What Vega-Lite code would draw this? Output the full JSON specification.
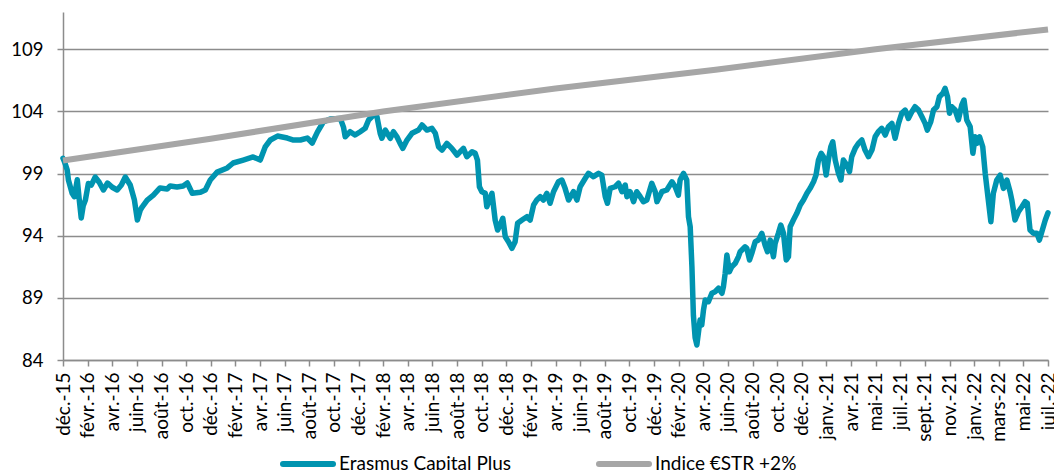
{
  "$schema": "https://vega.github.io/schema/vega-lite/v6.json",
  "width": 985,
  "height": 348,
  "autosize": {"type": "none"},
  "padding": {"left": 63, "top": 12, "right": 6, "bottom": 110},
  "config": {"view": {"stroke": null}, "font": "Lato"},
  "data": {"values": [
    {"serie": "Indice €STR +2%", "t": 0, "v": 100.05},
    {"serie": "Indice €STR +2%", "t": 6, "v": 101.8},
    {"serie": "Indice €STR +2%", "t": 13, "v": 104.0},
    {"serie": "Indice €STR +2%", "t": 20, "v": 105.85},
    {"serie": "Indice €STR +2%", "t": 26.5, "v": 107.35},
    {"serie": "Indice €STR +2%", "t": 33, "v": 109.0},
    {"serie": "Indice €STR +2%", "t": 40, "v": 110.6},
    {"serie": "Erasmus Capital Plus", "t": 0, "v": 100.23},
    {"serie": "Erasmus Capital Plus", "t": 0.07, "v": 99.9},
    {"serie": "Erasmus Capital Plus", "t": 0.17, "v": 99.3},
    {"serie": "Erasmus Capital Plus", "t": 0.22, "v": 98.48},
    {"serie": "Erasmus Capital Plus", "t": 0.37, "v": 97.41},
    {"serie": "Erasmus Capital Plus", "t": 0.46, "v": 97.14},
    {"serie": "Erasmus Capital Plus", "t": 0.58, "v": 98.5},
    {"serie": "Erasmus Capital Plus", "t": 0.66, "v": 96.9},
    {"serie": "Erasmus Capital Plus", "t": 0.74, "v": 95.42},
    {"serie": "Erasmus Capital Plus", "t": 0.82, "v": 96.4},
    {"serie": "Erasmus Capital Plus", "t": 0.91, "v": 96.87},
    {"serie": "Erasmus Capital Plus", "t": 1.03, "v": 98.2},
    {"serie": "Erasmus Capital Plus", "t": 1.15, "v": 98.08},
    {"serie": "Erasmus Capital Plus", "t": 1.31, "v": 98.72},
    {"serie": "Erasmus Capital Plus", "t": 1.47, "v": 98.3},
    {"serie": "Erasmus Capital Plus", "t": 1.64, "v": 97.68},
    {"serie": "Erasmus Capital Plus", "t": 1.81, "v": 98.24},
    {"serie": "Erasmus Capital Plus", "t": 2.0, "v": 97.9},
    {"serie": "Erasmus Capital Plus", "t": 2.2, "v": 97.68},
    {"serie": "Erasmus Capital Plus", "t": 2.37, "v": 98.08},
    {"serie": "Erasmus Capital Plus", "t": 2.53, "v": 98.72},
    {"serie": "Erasmus Capital Plus", "t": 2.73, "v": 98.08},
    {"serie": "Erasmus Capital Plus", "t": 2.9, "v": 96.87},
    {"serie": "Erasmus Capital Plus", "t": 3.02, "v": 95.26},
    {"serie": "Erasmus Capital Plus", "t": 3.14, "v": 96.07},
    {"serie": "Erasmus Capital Plus", "t": 3.22, "v": 96.33},
    {"serie": "Erasmus Capital Plus", "t": 3.42, "v": 96.87},
    {"serie": "Erasmus Capital Plus", "t": 3.67, "v": 97.27},
    {"serie": "Erasmus Capital Plus", "t": 3.94, "v": 97.84},
    {"serie": "Erasmus Capital Plus", "t": 4.23, "v": 97.76},
    {"serie": "Erasmus Capital Plus", "t": 4.35, "v": 98.0},
    {"serie": "Erasmus Capital Plus", "t": 4.63, "v": 97.92},
    {"serie": "Erasmus Capital Plus", "t": 4.88, "v": 98.0},
    {"serie": "Erasmus Capital Plus", "t": 5.05, "v": 98.24},
    {"serie": "Erasmus Capital Plus", "t": 5.25, "v": 97.41},
    {"serie": "Erasmus Capital Plus", "t": 5.58, "v": 97.5},
    {"serie": "Erasmus Capital Plus", "t": 5.78, "v": 97.68},
    {"serie": "Erasmus Capital Plus", "t": 5.98, "v": 98.48},
    {"serie": "Erasmus Capital Plus", "t": 6.26, "v": 99.12},
    {"serie": "Erasmus Capital Plus", "t": 6.67, "v": 99.45},
    {"serie": "Erasmus Capital Plus", "t": 6.91, "v": 99.85},
    {"serie": "Erasmus Capital Plus", "t": 7.32, "v": 100.09},
    {"serie": "Erasmus Capital Plus", "t": 7.72, "v": 100.34},
    {"serie": "Erasmus Capital Plus", "t": 8.01, "v": 100.09},
    {"serie": "Erasmus Capital Plus", "t": 8.21, "v": 101.14},
    {"serie": "Erasmus Capital Plus", "t": 8.42, "v": 101.7},
    {"serie": "Erasmus Capital Plus", "t": 8.71, "v": 102.02},
    {"serie": "Erasmus Capital Plus", "t": 9.11, "v": 101.86},
    {"serie": "Erasmus Capital Plus", "t": 9.36, "v": 101.7},
    {"serie": "Erasmus Capital Plus", "t": 9.64, "v": 101.7},
    {"serie": "Erasmus Capital Plus", "t": 9.92, "v": 101.86},
    {"serie": "Erasmus Capital Plus", "t": 10.12, "v": 101.46},
    {"serie": "Erasmus Capital Plus", "t": 10.33, "v": 102.34},
    {"serie": "Erasmus Capital Plus", "t": 10.57, "v": 103.15},
    {"serie": "Erasmus Capital Plus", "t": 10.85, "v": 103.39},
    {"serie": "Erasmus Capital Plus", "t": 11.26, "v": 103.44},
    {"serie": "Erasmus Capital Plus", "t": 11.39, "v": 102.74},
    {"serie": "Erasmus Capital Plus", "t": 11.46, "v": 101.96},
    {"serie": "Erasmus Capital Plus", "t": 11.66, "v": 102.37},
    {"serie": "Erasmus Capital Plus", "t": 11.86, "v": 102.1},
    {"serie": "Erasmus Capital Plus", "t": 12.07, "v": 102.37},
    {"serie": "Erasmus Capital Plus", "t": 12.27, "v": 102.64},
    {"serie": "Erasmus Capital Plus", "t": 12.41, "v": 103.31},
    {"serie": "Erasmus Capital Plus", "t": 12.61, "v": 103.71},
    {"serie": "Erasmus Capital Plus", "t": 12.75, "v": 103.57},
    {"serie": "Erasmus Capital Plus", "t": 12.88, "v": 102.24},
    {"serie": "Erasmus Capital Plus", "t": 12.95, "v": 101.84},
    {"serie": "Erasmus Capital Plus", "t": 13.09, "v": 102.5},
    {"serie": "Erasmus Capital Plus", "t": 13.29, "v": 101.84},
    {"serie": "Erasmus Capital Plus", "t": 13.42, "v": 102.37},
    {"serie": "Erasmus Capital Plus", "t": 13.56, "v": 101.96},
    {"serie": "Erasmus Capital Plus", "t": 13.69, "v": 101.43},
    {"serie": "Erasmus Capital Plus", "t": 13.8, "v": 101.03},
    {"serie": "Erasmus Capital Plus", "t": 13.97, "v": 101.7},
    {"serie": "Erasmus Capital Plus", "t": 14.17, "v": 102.24},
    {"serie": "Erasmus Capital Plus", "t": 14.44, "v": 102.5},
    {"serie": "Erasmus Capital Plus", "t": 14.58, "v": 102.91},
    {"serie": "Erasmus Capital Plus", "t": 14.78, "v": 102.5},
    {"serie": "Erasmus Capital Plus", "t": 14.98, "v": 102.64},
    {"serie": "Erasmus Capital Plus", "t": 15.12, "v": 102.24},
    {"serie": "Erasmus Capital Plus", "t": 15.25, "v": 101.16},
    {"serie": "Erasmus Capital Plus", "t": 15.39, "v": 100.89},
    {"serie": "Erasmus Capital Plus", "t": 15.59, "v": 101.43},
    {"serie": "Erasmus Capital Plus", "t": 15.79, "v": 101.03},
    {"serie": "Erasmus Capital Plus", "t": 16.0, "v": 100.49},
    {"serie": "Erasmus Capital Plus", "t": 16.13, "v": 100.76},
    {"serie": "Erasmus Capital Plus", "t": 16.26, "v": 101.03},
    {"serie": "Erasmus Capital Plus", "t": 16.4, "v": 100.36},
    {"serie": "Erasmus Capital Plus", "t": 16.61, "v": 100.76},
    {"serie": "Erasmus Capital Plus", "t": 16.74, "v": 100.63},
    {"serie": "Erasmus Capital Plus", "t": 16.83, "v": 100.09},
    {"serie": "Erasmus Capital Plus", "t": 16.91, "v": 97.94},
    {"serie": "Erasmus Capital Plus", "t": 17.01, "v": 97.54},
    {"serie": "Erasmus Capital Plus", "t": 17.15, "v": 97.41},
    {"serie": "Erasmus Capital Plus", "t": 17.21, "v": 96.33},
    {"serie": "Erasmus Capital Plus", "t": 17.31, "v": 96.87},
    {"serie": "Erasmus Capital Plus", "t": 17.42, "v": 97.41},
    {"serie": "Erasmus Capital Plus", "t": 17.55, "v": 95.26},
    {"serie": "Erasmus Capital Plus", "t": 17.65, "v": 94.46},
    {"serie": "Erasmus Capital Plus", "t": 17.75, "v": 94.86},
    {"serie": "Erasmus Capital Plus", "t": 17.86, "v": 95.4},
    {"serie": "Erasmus Capital Plus", "t": 17.96, "v": 93.92},
    {"serie": "Erasmus Capital Plus", "t": 18.09, "v": 93.52},
    {"serie": "Erasmus Capital Plus", "t": 18.23, "v": 92.99},
    {"serie": "Erasmus Capital Plus", "t": 18.36, "v": 93.52},
    {"serie": "Erasmus Capital Plus", "t": 18.46, "v": 95.0},
    {"serie": "Erasmus Capital Plus", "t": 18.64, "v": 95.26},
    {"serie": "Erasmus Capital Plus", "t": 18.84, "v": 95.53},
    {"serie": "Erasmus Capital Plus", "t": 18.97, "v": 95.26},
    {"serie": "Erasmus Capital Plus", "t": 19.11, "v": 96.47},
    {"serie": "Erasmus Capital Plus", "t": 19.24, "v": 96.87},
    {"serie": "Erasmus Capital Plus", "t": 19.38, "v": 97.14},
    {"serie": "Erasmus Capital Plus", "t": 19.51, "v": 96.87},
    {"serie": "Erasmus Capital Plus", "t": 19.65, "v": 97.41},
    {"serie": "Erasmus Capital Plus", "t": 19.78, "v": 96.61},
    {"serie": "Erasmus Capital Plus", "t": 19.92, "v": 97.54},
    {"serie": "Erasmus Capital Plus", "t": 20.12, "v": 98.34},
    {"serie": "Erasmus Capital Plus", "t": 20.26, "v": 98.48},
    {"serie": "Erasmus Capital Plus", "t": 20.39, "v": 97.81},
    {"serie": "Erasmus Capital Plus", "t": 20.53, "v": 96.87},
    {"serie": "Erasmus Capital Plus", "t": 20.73, "v": 97.54},
    {"serie": "Erasmus Capital Plus", "t": 20.87, "v": 96.87},
    {"serie": "Erasmus Capital Plus", "t": 21.0, "v": 97.94},
    {"serie": "Erasmus Capital Plus", "t": 21.21, "v": 98.62},
    {"serie": "Erasmus Capital Plus", "t": 21.34, "v": 99.02},
    {"serie": "Erasmus Capital Plus", "t": 21.54, "v": 98.75},
    {"serie": "Erasmus Capital Plus", "t": 21.75, "v": 99.02},
    {"serie": "Erasmus Capital Plus", "t": 21.88, "v": 98.88},
    {"serie": "Erasmus Capital Plus", "t": 22.02, "v": 97.14},
    {"serie": "Erasmus Capital Plus", "t": 22.11, "v": 96.61},
    {"serie": "Erasmus Capital Plus", "t": 22.22, "v": 97.81},
    {"serie": "Erasmus Capital Plus", "t": 22.42, "v": 97.94},
    {"serie": "Erasmus Capital Plus", "t": 22.56, "v": 98.22},
    {"serie": "Erasmus Capital Plus", "t": 22.7, "v": 97.54},
    {"serie": "Erasmus Capital Plus", "t": 22.83, "v": 98.08},
    {"serie": "Erasmus Capital Plus", "t": 22.9, "v": 97.14},
    {"serie": "Erasmus Capital Plus", "t": 23.03, "v": 97.54},
    {"serie": "Erasmus Capital Plus", "t": 23.17, "v": 96.74},
    {"serie": "Erasmus Capital Plus", "t": 23.3, "v": 97.54},
    {"serie": "Erasmus Capital Plus", "t": 23.44, "v": 97.14},
    {"serie": "Erasmus Capital Plus", "t": 23.57, "v": 96.74},
    {"serie": "Erasmus Capital Plus", "t": 23.71, "v": 96.87},
    {"serie": "Erasmus Capital Plus", "t": 23.91, "v": 98.22},
    {"serie": "Erasmus Capital Plus", "t": 24.05, "v": 97.54},
    {"serie": "Erasmus Capital Plus", "t": 24.12, "v": 96.74},
    {"serie": "Erasmus Capital Plus", "t": 24.32, "v": 97.54},
    {"serie": "Erasmus Capital Plus", "t": 24.52, "v": 97.68},
    {"serie": "Erasmus Capital Plus", "t": 24.73, "v": 98.34},
    {"serie": "Erasmus Capital Plus", "t": 24.86, "v": 97.94},
    {"serie": "Erasmus Capital Plus", "t": 24.99, "v": 97.27},
    {"serie": "Erasmus Capital Plus", "t": 25.06, "v": 98.48},
    {"serie": "Erasmus Capital Plus", "t": 25.2, "v": 99.02},
    {"serie": "Erasmus Capital Plus", "t": 25.33, "v": 98.48},
    {"serie": "Erasmus Capital Plus", "t": 25.4, "v": 95.53},
    {"serie": "Erasmus Capital Plus", "t": 25.47, "v": 94.72},
    {"serie": "Erasmus Capital Plus", "t": 25.54, "v": 91.51},
    {"serie": "Erasmus Capital Plus", "t": 25.6, "v": 87.6},
    {"serie": "Erasmus Capital Plus", "t": 25.67, "v": 85.8},
    {"serie": "Erasmus Capital Plus", "t": 25.74, "v": 85.21},
    {"serie": "Erasmus Capital Plus", "t": 25.87, "v": 87.22},
    {"serie": "Erasmus Capital Plus", "t": 25.94, "v": 86.82},
    {"serie": "Erasmus Capital Plus", "t": 26.01, "v": 88.02},
    {"serie": "Erasmus Capital Plus", "t": 26.08, "v": 88.83},
    {"serie": "Erasmus Capital Plus", "t": 26.21, "v": 88.69},
    {"serie": "Erasmus Capital Plus", "t": 26.35, "v": 89.37},
    {"serie": "Erasmus Capital Plus", "t": 26.48, "v": 89.49},
    {"serie": "Erasmus Capital Plus", "t": 26.62, "v": 89.77},
    {"serie": "Erasmus Capital Plus", "t": 26.76, "v": 89.37},
    {"serie": "Erasmus Capital Plus", "t": 26.82, "v": 89.9},
    {"serie": "Erasmus Capital Plus", "t": 26.89, "v": 90.98},
    {"serie": "Erasmus Capital Plus", "t": 26.96, "v": 92.45},
    {"serie": "Erasmus Capital Plus", "t": 27.06, "v": 91.1},
    {"serie": "Erasmus Capital Plus", "t": 27.16, "v": 91.51},
    {"serie": "Erasmus Capital Plus", "t": 27.3, "v": 91.78},
    {"serie": "Erasmus Capital Plus", "t": 27.43, "v": 92.31},
    {"serie": "Erasmus Capital Plus", "t": 27.5, "v": 92.71},
    {"serie": "Erasmus Capital Plus", "t": 27.7, "v": 93.11},
    {"serie": "Erasmus Capital Plus", "t": 27.77, "v": 92.99},
    {"serie": "Erasmus Capital Plus", "t": 27.88, "v": 92.05},
    {"serie": "Erasmus Capital Plus", "t": 27.97, "v": 92.58},
    {"serie": "Erasmus Capital Plus", "t": 28.11, "v": 93.52},
    {"serie": "Erasmus Capital Plus", "t": 28.24, "v": 93.65},
    {"serie": "Erasmus Capital Plus", "t": 28.38, "v": 94.19},
    {"serie": "Erasmus Capital Plus", "t": 28.51, "v": 93.25},
    {"serie": "Erasmus Capital Plus", "t": 28.61, "v": 92.71},
    {"serie": "Erasmus Capital Plus", "t": 28.72, "v": 93.65},
    {"serie": "Erasmus Capital Plus", "t": 28.85, "v": 92.31},
    {"serie": "Erasmus Capital Plus", "t": 28.92, "v": 93.39},
    {"serie": "Erasmus Capital Plus", "t": 29.05, "v": 94.19},
    {"serie": "Erasmus Capital Plus", "t": 29.15, "v": 94.86},
    {"serie": "Erasmus Capital Plus", "t": 29.26, "v": 94.19},
    {"serie": "Erasmus Capital Plus", "t": 29.37, "v": 92.05},
    {"serie": "Erasmus Capital Plus", "t": 29.46, "v": 92.31},
    {"serie": "Erasmus Capital Plus", "t": 29.53, "v": 94.72},
    {"serie": "Erasmus Capital Plus", "t": 29.66, "v": 95.26},
    {"serie": "Erasmus Capital Plus", "t": 29.8, "v": 95.8},
    {"serie": "Erasmus Capital Plus", "t": 29.94, "v": 96.47},
    {"serie": "Erasmus Capital Plus", "t": 30.07, "v": 96.87},
    {"serie": "Erasmus Capital Plus", "t": 30.21, "v": 97.41},
    {"serie": "Erasmus Capital Plus", "t": 30.34, "v": 97.81},
    {"serie": "Erasmus Capital Plus", "t": 30.48, "v": 98.34},
    {"serie": "Erasmus Capital Plus", "t": 30.58, "v": 98.88},
    {"serie": "Erasmus Capital Plus", "t": 30.68, "v": 100.09},
    {"serie": "Erasmus Capital Plus", "t": 30.79, "v": 100.63},
    {"serie": "Erasmus Capital Plus", "t": 30.88, "v": 100.36},
    {"serie": "Erasmus Capital Plus", "t": 30.99, "v": 98.88},
    {"serie": "Erasmus Capital Plus", "t": 31.08, "v": 100.09},
    {"serie": "Erasmus Capital Plus", "t": 31.18, "v": 101.16},
    {"serie": "Erasmus Capital Plus", "t": 31.26, "v": 101.56},
    {"serie": "Erasmus Capital Plus", "t": 31.36, "v": 100.09},
    {"serie": "Erasmus Capital Plus", "t": 31.49, "v": 99.02},
    {"serie": "Erasmus Capital Plus", "t": 31.59, "v": 98.48},
    {"serie": "Erasmus Capital Plus", "t": 31.69, "v": 100.09},
    {"serie": "Erasmus Capital Plus", "t": 31.83, "v": 99.69},
    {"serie": "Erasmus Capital Plus", "t": 31.94, "v": 99.15},
    {"serie": "Erasmus Capital Plus", "t": 32.03, "v": 100.36},
    {"serie": "Erasmus Capital Plus", "t": 32.17, "v": 101.03},
    {"serie": "Erasmus Capital Plus", "t": 32.3, "v": 101.43},
    {"serie": "Erasmus Capital Plus", "t": 32.44, "v": 101.7},
    {"serie": "Erasmus Capital Plus", "t": 32.57, "v": 100.89},
    {"serie": "Erasmus Capital Plus", "t": 32.71, "v": 100.36},
    {"serie": "Erasmus Capital Plus", "t": 32.85, "v": 100.89},
    {"serie": "Erasmus Capital Plus", "t": 32.98, "v": 101.96},
    {"serie": "Erasmus Capital Plus", "t": 33.11, "v": 102.37},
    {"serie": "Erasmus Capital Plus", "t": 33.25, "v": 102.64},
    {"serie": "Erasmus Capital Plus", "t": 33.39, "v": 102.1},
    {"serie": "Erasmus Capital Plus", "t": 33.52, "v": 102.77},
    {"serie": "Erasmus Capital Plus", "t": 33.66, "v": 103.04},
    {"serie": "Erasmus Capital Plus", "t": 33.79, "v": 101.84},
    {"serie": "Erasmus Capital Plus", "t": 33.93, "v": 103.04},
    {"serie": "Erasmus Capital Plus", "t": 34.06, "v": 103.85},
    {"serie": "Erasmus Capital Plus", "t": 34.2, "v": 104.11},
    {"serie": "Erasmus Capital Plus", "t": 34.33, "v": 103.44},
    {"serie": "Erasmus Capital Plus", "t": 34.47, "v": 103.98},
    {"serie": "Erasmus Capital Plus", "t": 34.6, "v": 104.38},
    {"serie": "Erasmus Capital Plus", "t": 34.74, "v": 104.11},
    {"serie": "Erasmus Capital Plus", "t": 34.88, "v": 103.57},
    {"serie": "Erasmus Capital Plus", "t": 35.01, "v": 103.04},
    {"serie": "Erasmus Capital Plus", "t": 35.1, "v": 102.5},
    {"serie": "Erasmus Capital Plus", "t": 35.24, "v": 103.17},
    {"serie": "Erasmus Capital Plus", "t": 35.35, "v": 104.11},
    {"serie": "Erasmus Capital Plus", "t": 35.49, "v": 104.38},
    {"serie": "Erasmus Capital Plus", "t": 35.59, "v": 105.18},
    {"serie": "Erasmus Capital Plus", "t": 35.73, "v": 105.46},
    {"serie": "Erasmus Capital Plus", "t": 35.82, "v": 105.86},
    {"serie": "Erasmus Capital Plus", "t": 35.92, "v": 105.18},
    {"serie": "Erasmus Capital Plus", "t": 36.0, "v": 103.85},
    {"serie": "Erasmus Capital Plus", "t": 36.09, "v": 104.38},
    {"serie": "Erasmus Capital Plus", "t": 36.23, "v": 104.11},
    {"serie": "Erasmus Capital Plus", "t": 36.36, "v": 103.31},
    {"serie": "Erasmus Capital Plus", "t": 36.5, "v": 104.52},
    {"serie": "Erasmus Capital Plus", "t": 36.59, "v": 104.92},
    {"serie": "Erasmus Capital Plus", "t": 36.7, "v": 103.31},
    {"serie": "Erasmus Capital Plus", "t": 36.84, "v": 102.77},
    {"serie": "Erasmus Capital Plus", "t": 36.95, "v": 100.63},
    {"serie": "Erasmus Capital Plus", "t": 37.04, "v": 101.96},
    {"serie": "Erasmus Capital Plus", "t": 37.11, "v": 101.43},
    {"serie": "Erasmus Capital Plus", "t": 37.22, "v": 101.96},
    {"serie": "Erasmus Capital Plus", "t": 37.35, "v": 101.16},
    {"serie": "Erasmus Capital Plus", "t": 37.45, "v": 99.02},
    {"serie": "Erasmus Capital Plus", "t": 37.56, "v": 97.14},
    {"serie": "Erasmus Capital Plus", "t": 37.68, "v": 95.13},
    {"serie": "Erasmus Capital Plus", "t": 37.78, "v": 97.41},
    {"serie": "Erasmus Capital Plus", "t": 37.92, "v": 98.48},
    {"serie": "Erasmus Capital Plus", "t": 38.06, "v": 98.88},
    {"serie": "Erasmus Capital Plus", "t": 38.19, "v": 97.81},
    {"serie": "Erasmus Capital Plus", "t": 38.33, "v": 98.48},
    {"serie": "Erasmus Capital Plus", "t": 38.46, "v": 97.54},
    {"serie": "Erasmus Capital Plus", "t": 38.53, "v": 96.87},
    {"serie": "Erasmus Capital Plus", "t": 38.66, "v": 95.26},
    {"serie": "Erasmus Capital Plus", "t": 38.8, "v": 95.93},
    {"serie": "Erasmus Capital Plus", "t": 38.94, "v": 96.33},
    {"serie": "Erasmus Capital Plus", "t": 39.07, "v": 96.74},
    {"serie": "Erasmus Capital Plus", "t": 39.16, "v": 96.61},
    {"serie": "Erasmus Capital Plus", "t": 39.27, "v": 94.46},
    {"serie": "Erasmus Capital Plus", "t": 39.41, "v": 94.19},
    {"serie": "Erasmus Capital Plus", "t": 39.55, "v": 94.19},
    {"serie": "Erasmus Capital Plus", "t": 39.65, "v": 93.65},
    {"serie": "Erasmus Capital Plus", "t": 39.75, "v": 94.32},
    {"serie": "Erasmus Capital Plus", "t": 39.89, "v": 95.26},
    {"serie": "Erasmus Capital Plus", "t": 40.0, "v": 95.85}
  ]},
  "encoding": {
    "x": {
      "field": "t", "type": "quantitative",
      "scale": {"domain": [0, 40], "nice": false, "zero": false},
      "axis": {
        "title": null, "grid": false,
        "values": [0,1,2,3,4,5,6,7,8,9,10,11,12,13,14,15,16,17,18,19,20,21,22,23,24,25,26,27,28,29,30,31,32,33,34,35,36,37,38,39,40],
        "labelExpr": "['déc.-15','févr.-16','avr.-16','juin-16','août-16','oct.-16','déc.-16','févr.-17','avr.-17','juin-17','août-17','oct.-17','déc.-17','févr.-18','avr.-18','juin-18','août-18','oct.-18','déc.-18','févr.-19','avr.-19','juin-19','août-19','oct.-19','déc.-19','févr.-20','avr.-20','juin-20','août-20','oct.-20','déc.-20','janv.-21','avr.-21','mai-21','juil.-21','sept.-21','nov.-21','janv.-22','mars-22','mai-22','juil.-22'][datum.value]",
        "labelAngle": -90, "labelFontSize": 19, "labelColor": "#000000",
        "labelPadding": 6, "labelOverlap": false, "labelFlush": false, "labelBound": false,
        "tickSize": 6, "tickColor": "#8c8c8c", "tickWidth": 1.5,
        "domainColor": "#8c8c8c", "domainWidth": 1.5
      }
    },
    "y": {
      "field": "v", "type": "quantitative",
      "scale": {"domain": [84, 112], "nice": false, "zero": false},
      "axis": {
        "title": null, "values": [84, 89, 94, 99, 104, 109],
        "grid": true, "gridColor": "#8c8c8c", "gridWidth": 1.5,
        "labelFontSize": 18.5, "labelColor": "#000000", "labelPadding": 14,
        "tickSize": 6, "tickColor": "#8c8c8c", "tickWidth": 1.5,
        "domainColor": "#8c8c8c", "domainWidth": 1.5
      }
    },
    "color": {
      "field": "serie", "type": "nominal",
      "scale": {"domain": ["Erasmus Capital Plus", "Indice €STR +2%"], "range": ["#0094B0", "#A6A6A6"]},
      "legend": {
        "title": null, "orient": "none", "legendX": 217, "legendY": 424,
        "direction": "horizontal", "columns": 2, "symbolType": "stroke", "symbolSize": 2500,
        "symbolStrokeWidth": 6, "labelFontSize": 19, "labelColor": "#000000",
        "labelOffset": 3, "columnPadding": 75, "labelLimit": 400,
        "encode": {"symbols": {"update": {"strokeCap": {"value": "round"}}}}
      }
    }
  },
  "layer": [
    {
      "transform": [{"filter": "datum.serie === 'Erasmus Capital Plus'"}],
      "mark": {"type": "line", "strokeWidth": 5.5, "strokeJoin": "round", "strokeCap": "round"}
    },
    {
      "transform": [{"filter": "datum.serie === 'Indice €STR +2%'"}],
      "mark": {"type": "line", "strokeWidth": 6}
    }
  ]
}
